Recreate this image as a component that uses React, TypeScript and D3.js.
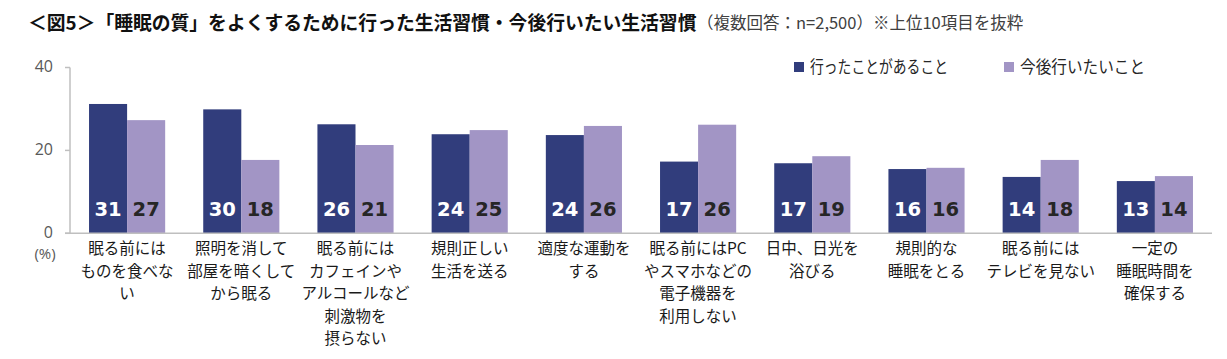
import React from "react";
import * as d3 from "d3";

const categories: string[][] = [
  ["眠る前には", "ものを食べな", "い"],
  ["照明を消して", "部屋を暗くして", "から眠る"],
  ["眠る前には", "カフェインや", "アルコールなど", "刺激物を", "摂らない"],
  ["規則正しい", "生活を送る"],
  ["適度な運動を", "する"],
  ["眠る前にはPC", "やスマホなどの", "電子機器を", "利用しない"],
  ["日中、日光を", "浴びる"],
  ["規則的な", "睡眠をとる"],
  ["眠る前には", "テレビを見ない"],
  ["一定の", "睡眠時間を", "確保する"],
];
const didValues = [31.2, 29.9, 26.3, 23.9, 23.7, 17.3, 16.9, 15.5, 13.6, 12.6];
const wantValues = [27.3, 17.7, 21.3, 24.9, 25.9, 26.2, 18.6, 15.8, 17.7, 13.8];
const didLabels = ["31", "30", "26", "24", "24", "17", "17", "16", "14", "13"];
const wantLabels = ["27", "18", "21", "25", "26", "26", "19", "16", "18", "14"];
const seriesNames = ["行ったことがあること", "今後行いたいこと"];
const yTicks = [0, 20, 40];
const titleMain = "＜図5＞「睡眠の質」をよくするために行った生活習慣・今後行いたい生活習慣";
const titleSub = "（複数回答：n=2,500）※上位10項目を抜粋";

const DARK = "#313D7C";
const LIGHT = "#A295C5";
const JP = "'Noto Sans CJK JP', 'Noto Sans', sans-serif";

export default function App() {
  const W = 1227;
  const H = 359;
  const x = d3
    .scaleBand<number>()
    .domain(d3.range(categories.length))
    .range([70, 1212])
    .paddingInner(1 / 3)
    .paddingOuter(1 / 6);
  const y = d3.scaleLinear().domain([0, 40]).range([233.3, 67.5]);
  const bw = x.bandwidth() / 2;

  return (
    <svg
      width={W}
      height={H}
      style={{ position: "absolute", left: 0, top: 0, background: "#fff" }}
    >
      {/* title */}
      <text x={28} y={30} fontFamily={JP} fontWeight="bold" fontSize={18.8} fill="#111">
        {titleMain}
      </text>
      <text x={697} y={29} fontFamily={JP} fontSize={16.5} fill="#404040">
        {titleSub}
      </text>

      {/* legend */}
      <rect x={794} y={62} width={10} height={10} fill={DARK} />
      <text
        x={810}
        y={73}
        fontFamily={JP}
        fontSize={16.5}
        fill="#262626"
        textLength={138}
        lengthAdjust="spacingAndGlyphs"
      >
        {seriesNames[0]}
      </text>
      <rect x={1004} y={62} width={10} height={10} fill={LIGHT} />
      <text
        x={1020}
        y={73}
        fontFamily={JP}
        fontSize={16.5}
        fill="#262626"
        textLength={125}
        lengthAdjust="spacingAndGlyphs"
      >
        {seriesNames[1]}
      </text>

      {/* y axis */}
      <line x1={70} x2={70} y1={y(40)} y2={y(0)} stroke="#BFBFBF" strokeWidth={1.5} />
      {yTicks.map((t) => (
        <g key={t}>
          <line x1={65} x2={70} y1={y(t)} y2={y(t)} stroke="#BFBFBF" strokeWidth={1.5} />
          <text
            x={53}
            y={y(t) + 4.5}
            textAnchor="end"
            fontFamily="'Open Sans', sans-serif"
            fontSize={16}
            fill="#595959"
          >
            {t}
          </text>
        </g>
      ))}
      <text
        x={45}
        y={259}
        textAnchor="middle"
        fontFamily="'Open Sans', sans-serif"
        fontSize={15}
        fill="#595959"
      >
        (%)
      </text>

      {/* bars */}
      {categories.map((_, i) => {
        const x0 = x(i)!;
        return (
          <g key={i}>
            <rect
              x={x0}
              y={y(didValues[i])}
              width={bw}
              height={y(0) - y(didValues[i])}
              fill={DARK}
            />
            <rect
              x={x0 + bw}
              y={y(wantValues[i])}
              width={bw}
              height={y(0) - y(wantValues[i])}
              fill={LIGHT}
            />
            <text
              x={x0 + bw / 2}
              y={216}
              textAnchor="middle"
              fontFamily="'DejaVu Sans', sans-serif"
              fontWeight="bold"
              fontSize={19.5}
              fill="#fff"
            >
              {didLabels[i]}
            </text>
            <text
              x={x0 + bw * 1.5}
              y={216}
              textAnchor="middle"
              fontFamily="'DejaVu Sans', sans-serif"
              fontWeight="bold"
              fontSize={19.5}
              fill="#262626"
            >
              {wantLabels[i]}
            </text>
          </g>
        );
      })}

      {/* baseline */}
      <line x1={65} x2={1212} y1={y(0)} y2={y(0)} stroke="#BFBFBF" strokeWidth={1.5} />

      {/* category labels */}
      {categories.map((lines, i) => (
        <text
          key={i}
          textAnchor="middle"
          fontFamily={JP}
          fontSize={15.5}
          fill="#1a1a1a"
        >
          {lines.map((ln, j) => (
            <tspan key={j} x={x(i)! + x.bandwidth() / 2} y={254 + j * 22.5}>
              {ln}
            </tspan>
          ))}
        </text>
      ))}
    </svg>
  );
}
